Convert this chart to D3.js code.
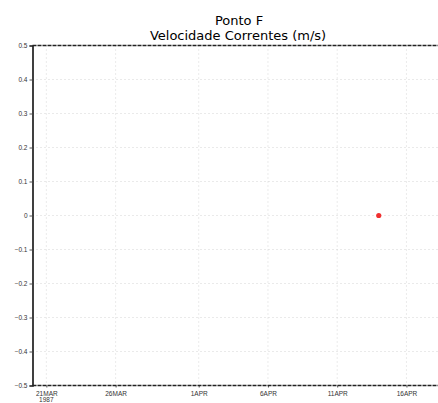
<!DOCTYPE html>
<meta charset="utf-8">
<head>
<style>
body { margin: 0; background: #fff; }
.title { font-family: "DejaVu Sans", sans-serif; font-size: 13px; text-anchor: middle; fill: #000; }
.tick text { font-family: "Liberation Sans", sans-serif; font-size: 6.5px; fill: #333; }
.grid line { stroke: #bbb; stroke-width: .6; stroke-dasharray: 1,3; }
</style>
</head>
<body>
<svg width="438" height="403"></svg>
<script src="https://cdn.jsdelivr.net/npm/d3@7"></script>
<script>

var dates = ["1987-04-14"],
    values = [0];

var xTicks = ["1987-03-21", "1987-03-26", "1987-04-01", "1987-04-06", "1987-04-11", "1987-04-16"],
    yTicks = [-0.5, -0.4, -0.3, -0.2, -0.1, 0, 0.1, 0.2, 0.3, 0.4, 0.5];

var parse = d3.utcParse("%Y-%m-%d"),
    fmt = d3.utcFormat("%-d%b");

var svg = d3.select("svg"),
    plotLeft = 32.5, plotTop = 45.5, plotBottom = 385.5;

var x = d3.scaleUtc()
    .domain([parse("1987-03-20"), parse("1987-04-19")])
    .range([plotLeft, plotLeft + 30 * 13.85]);

var y = d3.scaleLinear()
    .domain([-0.5, 0.5])
    .range([plotBottom, plotTop]);

// dotted grid
var grid = svg.append("g").attr("class", "grid");
grid.selectAll(".v")
    .data(xTicks.map(parse))
  .enter().append("line")
    .attr("x1", function(d) { return x(d); })
    .attr("x2", function(d) { return x(d); })
    .attr("y1", plotTop)
    .attr("y2", plotBottom);
grid.selectAll(".h")
    .data(yTicks.slice(1, -1))
  .enter().append("line")
    .attr("x1", plotLeft)
    .attr("x2", 438)
    .attr("y1", function(d) { return y(d); })
    .attr("y2", function(d) { return y(d); });

// axes
var yAxis = svg.append("g")
    .attr("transform", "translate(" + plotLeft + ",0)")
    .call(d3.axisLeft(y).tickValues(yTicks).tickSize(3).tickPadding(2)
      .tickFormat(function(d) { return d === 0 ? "0" : String(d).replace("-", "\u2212"); }));
yAxis.select(".domain").attr("stroke", "#111").attr("stroke-width", 1.6);
yAxis.selectAll(".tick line").attr("stroke", "#555");

var xAxis = svg.append("g")
    .attr("transform", "translate(0," + plotBottom + ")")
    .call(d3.axisBottom(x).tickValues(xTicks.map(parse)).tickSize(2).tickPadding(4)
      .tickFormat(function(d) { return fmt(d).toUpperCase(); }));
xAxis.select(".domain").remove();
xAxis.selectAll(".tick line").attr("stroke", "#555");

// year under first tick
svg.append("text")
    .attr("x", x(parse(xTicks[0])))
    .attr("y", 402)
    .attr("text-anchor", "middle")
    .style("font-family", "Liberation Sans, sans-serif")
    .style("font-size", "6.5px")
    .style("fill", "#333")
    .text("1987");

// frame top and bottom
[plotTop, plotBottom].forEach(function(v) {
  svg.append("line")
      .attr("x1", plotLeft).attr("x2", 438)
      .attr("y1", v).attr("y2", v)
      .attr("stroke", "#222")
      .attr("stroke-width", 1.6)
      .attr("stroke-dasharray", "4,1");
});

// data
svg.append("g").selectAll("circle")
    .data(dates.map(function(d, i) { return { date: parse(d), value: values[i] }; }))
  .enter().append("circle")
    .attr("cx", function(d) { return x(d.date); })
    .attr("cy", function(d) { return y(d.value); })
    .attr("r", 2.6)
    .attr("fill", "#f03030");

// titles
svg.append("text").attr("class", "title").attr("x", 239).attr("y", 25).text("Ponto F");
svg.append("text").attr("class", "title").attr("x", 238).attr("y", 40).text("Velocidade Correntes (m/s)");

</script>
</body>
